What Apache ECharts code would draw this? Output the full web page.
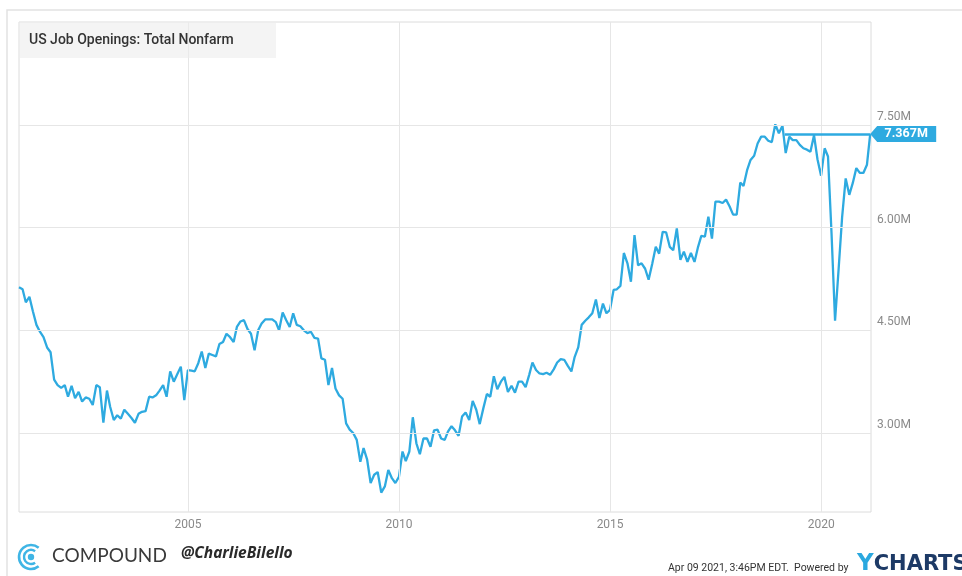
<!DOCTYPE html>
<html>
<head>
<meta charset="utf-8">
<script src="https://cdn.jsdelivr.net/npm/echarts@6/dist/echarts.min.js"></script>
<style>
html,body{margin:0;padding:0;background:#fff;}
#chart{width:962px;height:576px;}
</style>
</head>
<body>
<div id="chart"></div>
<script>
// Monthly job openings (millions), Dec 2000 .. Feb 2021
const startYear = 2000, startMonth = 12;
const openings = [
5.13,5.10,4.91,4.99,4.78,4.58,4.48,4.40,4.25,4.18,3.78,3.70,
3.66,3.70,3.53,3.69,3.51,3.60,3.46,3.52,3.50,3.41,3.70,3.67,
3.15,3.62,3.38,3.19,3.26,3.21,3.34,3.28,3.22,3.15,3.28,3.31,
3.32,3.53,3.52,3.55,3.62,3.70,3.53,3.90,3.75,3.86,3.97,3.48,
3.92,3.91,3.90,4.02,4.19,3.95,4.16,4.14,4.12,4.30,4.33,4.45,
4.40,4.33,4.55,4.63,4.65,4.52,4.45,4.21,4.50,4.60,4.66,4.66,
4.66,4.62,4.50,4.76,4.65,4.55,4.75,4.58,4.56,4.50,4.46,4.48,
4.39,4.38,4.09,4.07,3.70,3.95,3.65,3.55,3.50,3.14,3.05,3.00,
2.90,2.58,2.78,2.61,2.27,2.39,2.43,2.13,2.22,2.46,2.34,2.27,
2.36,2.73,2.59,2.73,3.23,2.85,2.69,2.92,2.92,2.80,3.04,3.05,
2.92,2.90,3.02,3.10,3.04,2.96,3.24,3.30,3.19,3.47,3.34,3.13,
3.36,3.57,3.53,3.83,3.64,3.75,3.82,3.60,3.69,3.59,3.75,3.75,
3.67,3.85,4.03,3.92,3.87,3.86,3.88,3.85,3.93,4.03,4.08,4.07,
3.98,3.90,4.11,4.25,4.58,4.64,4.69,4.75,4.95,4.68,4.89,4.75,
4.80,5.09,5.10,5.15,5.63,5.48,5.21,5.89,5.45,5.48,5.40,5.24,
5.47,5.72,5.62,5.94,5.93,5.72,5.67,5.99,5.53,5.65,5.50,5.63,
5.50,5.72,5.88,5.87,6.16,5.84,6.38,6.38,6.36,6.41,6.31,6.19,
6.19,6.66,6.61,6.84,6.99,7.05,7.23,7.33,7.33,7.27,7.25,7.51,
7.38,7.49,7.09,7.33,7.28,7.28,7.21,7.16,7.14,7.11,7.35,7.00,
6.76,7.16,7.04,5.90,4.64,5.40,6.15,6.72,6.48,6.65,6.87,6.80,
6.80,6.92,7.367
];
const yTicks = [3.0, 4.5, 6.0, 7.5];
const yTickLabels = ['3.00M', '4.50M', '6.00M', '7.50M'];
const xTicks = ['2005-01-01', '2010-01-01', '2015-01-01', '2020-01-01'];
const xTickLabels = ['2005', '2010', '2015', '2020'];
const lastLabel = '7.367M';
const lastLineStart = '2019-02-20';
const xMin = '2000-12-31', xMax = '2021-03-07';
const yMin = 1.846, yMax = 9.005;

// month-end dates
const dates = openings.map((_, i) => new Date(startYear, startMonth - 1 + i + 1, 0).getTime());
const seriesData = openings.map((v, i) => [dates[i], v]);
const lastPt = seriesData[seriesData.length - 1];

const blue = '#2eaae0';
const chart = echarts.init(document.getElementById('chart'));
const option = {
  animation: false,
  backgroundColor: '#fff',
  grid: { left: 19, right: 91, top: 22, bottom: 64, show: true, borderColor: '#dcdcdc', borderWidth: 1, backgroundColor: 'transparent', containLabel: false, outerBoundsMode: 'none' },
  xAxis: {
    type: 'time', min: xMin, max: xMax,
    axisLine: { show: false }, axisTick: { show: false }, axisLabel: { show: false }, splitLine: { show: false }
  },
  yAxis: {
    type: 'value', min: yMin, max: yMax, position: 'right',
    axisLine: { show: false }, axisTick: { show: false }, axisLabel: { show: false }, splitLine: { show: false }
  },
  series: [
    {
      name: 'grid', type: 'line', z: 1, data: seriesData, showSymbol: false, silent: true,
      lineStyle: { opacity: 0 },
      markLine: {
        silent: true, symbol: 'none', animation: false,
        lineStyle: { color: '#e6e6e6', width: 1, type: 'solid' },
        data: yTicks.map((v, k) => ({
          yAxis: v,
          label: { show: true, position: 'end', formatter: yTickLabels[k], color: '#8a8a8a', fontSize: 12, fontFamily: 'Roboto', distance: 6, offset: [0, -8] }
        })).concat(xTicks.map((d, k) => ({
          xAxis: d,
          label: { show: true, position: 'start', formatter: xTickLabels[k], color: '#8a8a8a', fontSize: 12, fontFamily: 'Roboto', distance: 7 }
        })))
      }
    },
    {
      name: 'US Job Openings: Total Nonfarm', type: 'line', z: 3, data: seriesData, showSymbol: false,
      lineStyle: { color: blue, width: 2.3 },
      markLine: {
        silent: true, symbol: 'none', animation: false,
        lineStyle: { color: blue, width: 2.6, type: 'solid' },
        label: { show: false },
        data: [[{ coord: [lastLineStart, lastPt[1]] }, { coord: [lastPt[0], lastPt[1]] }]]
      },
      markPoint: {
        silent: true, animation: false,
        data: [{
          coord: lastPt,
          symbol: 'path://M0,8 L7,0 L66,0 L66,16 L7,16 Z',
          symbolSize: [66, 16], symbolOffset: [33, 0], symbolKeepAspect: false,
          itemStyle: { color: blue },
          label: { show: true, position: 'inside', formatter: lastLabel, color: '#fff', fontWeight: 'bold', fontSize: 12.5, fontFamily: 'Roboto', offset: [3, 0] }
        }]
      }
    }
  ],
  graphic: [
    { type: 'rect', silent: true, z: 0, shape: { x: 7, y: 10, width: 970, height: 600 }, style: { fill: 'none', stroke: '#e2e2e2', lineWidth: 1.5 } },
    { type: 'rect', silent: true, z: 10, shape: { x: 19, y: 22, width: 257, height: 36 }, style: { fill: 'rgba(236,236,236,0.6)', stroke: 'none' } },
    { type: 'text', silent: true, z: 11, left: 29, top: 33, style: { text: 'US Job Openings: Total Nonfarm', fill: '#333', font: '500 14px Roboto' } },
    { type: 'arc', silent: true, z: 11, shape: { cx: 31, cy: 557, r: 12, startAngle: Math.PI * 0.28, endAngle: Math.PI * 1.72, clockwise: true }, style: { stroke: '#3fb5e5', lineWidth: 2.6, fill: 'none' } },
    { type: 'arc', silent: true, z: 11, shape: { cx: 31, cy: 557, r: 7, startAngle: Math.PI * 0.3, endAngle: Math.PI * 1.7, clockwise: true }, style: { stroke: '#3fb5e5', lineWidth: 2.4, fill: 'none' } },
    { type: 'circle', silent: true, z: 11, shape: { cx: 31, cy: 557, r: 3.2 }, style: { fill: '#3fb5e5' } },
    { type: 'text', silent: true, z: 11, left: 52, top: 546, style: { text: 'COMPOUND', fill: '#3a3a3a', font: '19px Lato' } },
    { type: 'text', silent: true, z: 11, left: 181, top: 546, style: { text: '@CharlieBilello', fill: '#2a2a2a', font: 'italic bold 15.5px "Noto Sans"' } },
    { type: 'text', silent: true, z: 11, left: 668, top: 563, style: { text: 'Apr 09 2021, 3:46PM EDT.  Powered by', fill: '#333', font: '10.5px "Liberation Sans Narrow", Roboto' } },
    { type: 'text', silent: true, z: 11, left: 857, top: 553, style: {
        text: '{y|Y}{c|CHARTS}',
        rich: {
          y: { fill: '#2aa8df', font: 'bold 23px "DejaVu Sans"' },
          c: { fill: '#1d3a66', font: 'bold 21px "DejaVu Sans"' }
        }
      } }
  ]
};
chart.setOption(option);
</script>
</body>
</html>
